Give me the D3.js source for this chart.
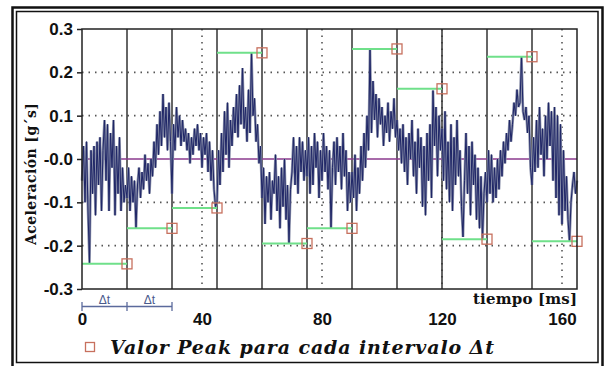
<!DOCTYPE html>
<html><head><meta charset="utf-8">
<script src="https://cdn.jsdelivr.net/npm/d3@7"></script>
<style>
html,body{margin:0;padding:0;background:#fff;}
svg{display:block;}
</style></head>
<body><svg id="c" width="605" height="366"></svg>
<script>
// ---- data ----
const sampleStep = 0.5; // ms
const signal = [
 -0.05, 0.03,-0.10, 0.04,-0.12,-0.24, 0.02,-0.08, 0.03,-0.13, 0.04,-0.06, 0.05,-0.12, 0.02, 0.09,-0.05, 0.08,-0.12, 0.06,-0.02, 0.09,-0.13, 0.03,-0.08, 0.05,-0.12,-0.02,-0.10,-0.06,
 -0.09,-0.02,-0.12,-0.04,-0.10,-0.05,-0.16,-0.06,-0.02,-0.09,-0.03,-0.07, 0.01,-0.05,-0.01,-0.08, 0.00,-0.04, 0.04,-0.02, 0.08, 0.01, 0.11, 0.03, 0.15, 0.05, 0.12, 0.02, 0.13, 0.04,
 -0.08, 0.08, 0.02, 0.12, 0.05, 0.10, 0.03, 0.09, 0.04, 0.07, 0.02, 0.06,-0.01, 0.05, 0.01, 0.07, 0.03, 0.08, 0.02, 0.06,-0.02, 0.05, 0.01, 0.06,-0.03, 0.04,-0.05, 0.02,-0.07,-0.11,
 -0.10, 0.02,-0.06, 0.06,-0.03, 0.11, 0.01, 0.13,-0.02, 0.09, 0.03, 0.12, 0.06, 0.15, 0.05, 0.17, 0.08, 0.21, 0.07, 0.12, 0.04, 0.16, 0.06, 0.245,0.10, 0.14, 0.04, 0.08,-0.01, 0.03,
 -0.09,-0.02,-0.15,-0.04,-0.10,-0.03,-0.14,-0.05,-0.08, 0.01,-0.12,-0.04,-0.16,-0.02,-0.11, 0.00,-0.14,-0.06,-0.195,-0.07,-0.03,0.05,-0.06, 0.03,-0.08, 0.05,-0.03, 0.04,-0.05, 0.02,
 -0.04, 0.05,-0.08, 0.03,-0.06, 0.06,-0.02, 0.04,-0.09, 0.02,-0.05, 0.06,-0.03, 0.03,-0.07, 0.02,-0.16,-0.02, 0.04,-0.06, 0.05,-0.03, 0.03,-0.07, 0.06,-0.04, 0.02,-0.12,-0.03,-0.10,
 -0.03,-0.09, 0.01,-0.12,-0.02,-0.08, 0.03,-0.05, 0.06,-0.02, 0.10, 0.02, 0.254,0.06, 0.18, 0.09, 0.15, 0.05, 0.14, 0.08, 0.12, 0.03, 0.10, 0.06, 0.13, 0.04, 0.11, 0.07, 0.14, 0.05,
  0.09, 0.02, 0.07,-0.01, 0.08,-0.03, 0.05,-0.06, 0.06, 0.00, 0.09,-0.04, 0.04,-0.08, 0.07,-0.02, 0.05,-0.11, 0.03,-0.13, 0.06,-0.05, 0.08,-0.09, 0.158,0.03, 0.12,-0.04, 0.10, 0.02,
  0.07,-0.05, 0.11,-0.07, 0.04,-0.10, 0.08,-0.12, 0.05,-0.06, 0.09,-0.04, 0.02,-0.11,-0.18,-0.05, 0.06,-0.08, 0.03,-0.13, 0.04,-0.06, 0.01,-0.14,-0.02,-0.16,-0.04,-0.185,-0.08,-0.03,
 -0.10, 0.02,-0.08, 0.01,-0.10,-0.02,-0.09, 0.00,-0.07, 0.02,-0.04, 0.04,-0.01, 0.06, 0.02, 0.09, 0.04, 0.08, 0.13, 0.10, 0.16, 0.12, 0.13, 0.236,0.11, 0.09, 0.12, 0.06, 0.10,-0.02,
 -0.06, 0.05,-0.03, 0.09,-0.02, 0.12, 0.01, 0.07,-0.04, 0.10, 0.00, 0.13, 0.03, 0.11,-0.05, 0.12,-0.09, 0.10,-0.13, 0.08,-0.15, 0.02,-0.12,-0.04,-0.14,-0.19,-0.10,-0.06,-0.03,-0.08,-0.05
];
const intervalEdges = [0,15,30,45,60,75,90,105,120,135,150,165];
const peakValues = [-0.242,-0.16,-0.113,0.245,-0.195,-0.16,0.254,0.162,-0.185,0.236,-0.19];
const yTicks = [0.3,0.2,0.1,0,-0.1,-0.2,-0.3];
const yTickLabels = ["0.3","0.2","0.1","-0.0","-0.1","-0.2","-0.3"];
const yGrid = [0.2,0.1,-0.1,-0.2];
const xTicks = [0,40,80,120,160];
const xTickLabels = ["0","40","80","120","160"];
const xLabel = "tiempo [ms]";
const yLabel = "Aceleración [g´s]";
const legendText = "Valor Peak para cada intervalo Δt";
const deltaLabel = "Δt";
const deltaIntervals = [[0,15],[15,30]];

// ---- chart ----
const svg = d3.select("#c");
const x = d3.scaleLinear().domain([0,165]).range([82,577]);
const y = d3.scaleLinear().domain([-0.3,0.3]).range([289,29]);

// frames
svg.append("rect").attr("x",12.5).attr("y",7.5).attr("width",590).attr("height",366)
  .attr("fill","none").attr("stroke","#111").attr("stroke-width",2.5);
svg.append("rect").attr("x",16.5).attr("y",11.5).attr("width",581.5).attr("height",351)
  .attr("fill","none").attr("stroke","#111").attr("stroke-width",1.5);

// dotted grid
svg.append("g").selectAll("line").data(yGrid).join("line")
  .attr("x1",x(0)).attr("x2",x(165)).attr("y1",d=>y(d)).attr("y2",d=>y(d))
  .attr("stroke","#555").attr("stroke-width",1.6).attr("stroke-dasharray","1.5,5");
svg.append("g").selectAll("line").data(xTicks.slice(1)).join("line")
  .attr("x1",d=>x(d)).attr("x2",d=>x(d)).attr("y1",y(0.3)).attr("y2",y(-0.3))
  .attr("stroke","#555").attr("stroke-width",1.6).attr("stroke-dasharray","1.5,5");

// interval lines
svg.append("g").selectAll("line").data(intervalEdges.slice(1,-1)).join("line")
  .attr("x1",d=>x(d)).attr("x2",d=>x(d)).attr("y1",y(0.3)).attr("y2",y(-0.3))
  .attr("stroke","#333").attr("stroke-width",1.5);

// zero line
svg.append("line").attr("x1",x(0)).attr("x2",x(165)).attr("y1",y(0)).attr("y2",y(0))
  .attr("stroke","#8b3a8e").attr("stroke-width",1.6);

// signal
const line = d3.line().x((d,i)=>x(i*sampleStep)).y(d=>y(d));
svg.append("path").datum(signal).attr("d",line).attr("fill","none")
  .attr("stroke","#8a90aa").attr("stroke-width",2.6);
svg.append("path").datum(signal).attr("d",line).attr("fill","none")
  .attr("stroke","#1e2566").attr("stroke-width",1);

// peak lines & squares
const peaks = peakValues.map((v,i)=>({t0:intervalEdges[i],t1:intervalEdges[i+1],v}));
svg.append("g").selectAll("line").data(peaks).join("line")
  .attr("x1",d=>x(d.t0)).attr("x2",d=>x(d.t1)).attr("y1",d=>y(d.v)).attr("y2",d=>y(d.v))
  .attr("stroke","#6fe08a").attr("stroke-width",2);
svg.append("g").selectAll("rect").data(peaks).join("rect")
  .attr("x",d=>x(d.t1)-5).attr("y",d=>y(d.v)-5).attr("width",10).attr("height",10)
  .attr("fill","none").attr("stroke","#c7705e").attr("stroke-width",1.3);

// plot box
svg.append("rect").attr("x",x(0)).attr("y",y(0.3)).attr("width",x(165)-x(0)).attr("height",y(-0.3)-y(0.3))
  .attr("fill","none").attr("stroke","#222").attr("stroke-width",1.5);

// y axis
const yAxis = d3.axisLeft(y).tickValues(yTicks).tickSize(5).tickPadding(4)
  .tickFormat((d,i)=>yTickLabels[i]);
const gy = svg.append("g").attr("transform",`translate(${x(0)},0)`).call(yAxis);
gy.select(".domain").remove();
gy.selectAll("line").attr("stroke","#222").attr("stroke-width",1.5);
gy.selectAll("text").attr("font-family","Liberation Sans, Arial, sans-serif")
  .attr("font-weight","bold").attr("font-size",17).attr("fill","#111");

// x axis
const xAxis = d3.axisBottom(x).tickValues(xTicks).tickSize(0).tickPadding(24)
  .tickFormat((d,i)=>xTickLabels[i]);
const gx = svg.append("g").attr("transform",`translate(0,${y(-0.3)})`).call(xAxis);
gx.select(".domain").remove();
gx.selectAll("text").attr("font-family","Liberation Sans, Arial, sans-serif")
  .attr("font-weight","bold").attr("font-size",17).attr("fill","#111");

// axis labels
svg.append("text").attr("x",x(165)).attr("y",303.5).attr("text-anchor","end")
  .attr("font-family","DejaVu Serif, serif").attr("font-weight","bold").attr("font-size",15)
  .attr("textLength",104).attr("fill","#111").text(xLabel);
svg.append("text").attr("transform","translate(36,174) rotate(-90)").attr("text-anchor","middle")
  .attr("font-family","DejaVu Serif, serif").attr("font-weight","bold").attr("font-size",14)
  .attr("textLength",142).attr("fill","#111").text(yLabel);

// delta t brackets
const dg = svg.append("g");
dg.append("line").attr("x1",x(deltaIntervals[0][0])).attr("x2",x(deltaIntervals[1][1]))
  .attr("y1",306.5).attr("y2",306.5).attr("stroke","#5b6a9c").attr("stroke-width",1.3);
dg.selectAll("line.tk").data([deltaIntervals[0][0],deltaIntervals[0][1],deltaIntervals[1][1]]).join("line")
  .attr("class","tk").attr("x1",d=>x(d)).attr("x2",d=>x(d)).attr("y1",302).attr("y2",311)
  .attr("stroke","#5b6a9c").attr("stroke-width",1.3);
dg.selectAll("text").data(deltaIntervals).join("text")
  .attr("x",d=>x((d[0]+d[1])/2)).attr("y",303.5).attr("text-anchor","middle")
  .attr("font-family","Liberation Sans, Arial, sans-serif").attr("font-size",12)
  .attr("fill","#4a5a8c").text(deltaLabel);

// legend
svg.append("rect").attr("x",85.5).attr("y",342.5).attr("width",9).attr("height",9)
  .attr("fill","none").attr("stroke","#c7705e").attr("stroke-width",1.3);
svg.append("text").attr("x",110).attr("y",354).attr("font-family","DejaVu Serif, serif")
  .attr("font-weight","bold").attr("font-style","italic").attr("font-size",19)
  .attr("textLength",384).attr("fill","#111").text(legendText);
</script></body></html>
